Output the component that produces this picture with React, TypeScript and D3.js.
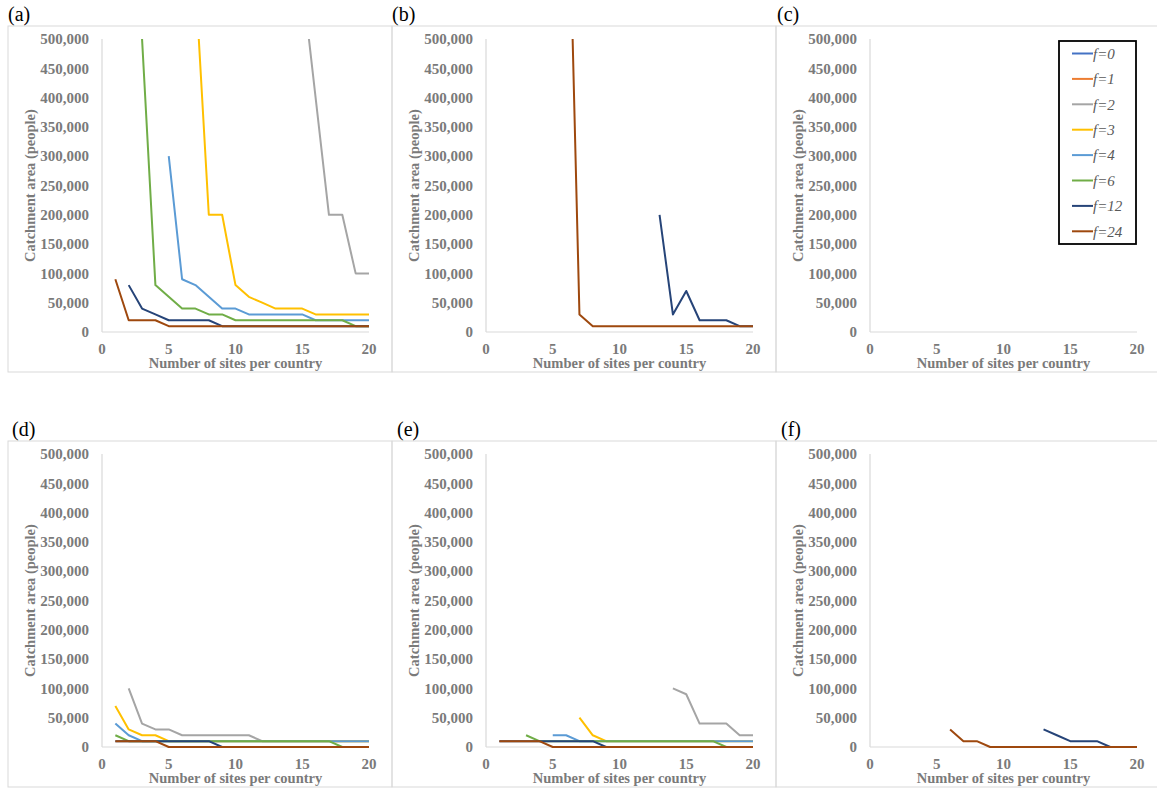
import React from 'react';
import * as d3 from 'd3';

// x values (number of sites per country)
const sites = [1, 2, 3, 4, 5, 6, 7, 8, 9, 10, 11, 12, 13, 14, 15, 16, 17, 18, 19, 20];

const seriesNames = ['f=0', 'f=1', 'f=2', 'f=3', 'f=4', 'f=6', 'f=12', 'f=24'];
const seriesColors = ['#4472C4', '#ED7D31', '#A5A5A5', '#FFC000', '#5B9BD5', '#70AD47', '#264478', '#9E480E'];

const yTicks = [0, 50000, 100000, 150000, 200000, 250000, 300000, 350000, 400000, 450000, 500000];
const xTicks = [0, 5, 10, 15, 20];

const panelLabels = ['(a)', '(b)', '(c)', '(d)', '(e)', '(f)'];

type V = number | null;
const _ = null;

// (a)
const aF2: V[] = [_, _, _, _, _, _, _, _, _, _, _, _, _, _, 600000, 400000, 200000, 200000, 100000, 100000];
const aF3: V[] = [_, _, _, _, _, _, 600000, 200000, 200000, 80000, 60000, 50000, 40000, 40000, 40000, 30000, 30000, 30000, 30000, 30000];
const aF4: V[] = [_, _, _, _, 300000, 90000, 80000, 60000, 40000, 40000, 30000, 30000, 30000, 30000, 30000, 20000, 20000, 20000, 20000, 20000];
const aF6: V[] = [_, _, 500000, 80000, 60000, 40000, 40000, 30000, 30000, 20000, 20000, 20000, 20000, 20000, 20000, 20000, 20000, 20000, 10000, 10000];
const aF12: V[] = [_, 80000, 40000, 30000, 20000, 20000, 20000, 20000, 10000, 10000, 10000, 10000, 10000, 10000, 10000, 10000, 10000, 10000, 10000, 10000];
const aF24: V[] = [90000, 20000, 20000, 20000, 10000, 10000, 10000, 10000, 10000, 10000, 10000, 10000, 10000, 10000, 10000, 10000, 10000, 10000, 10000, 10000];

// (b)
const bF12: V[] = [_, _, _, _, _, _, _, _, _, _, _, _, 200000, 30000, 70000, 20000, 20000, 20000, 10000, 10000];
const bF24: V[] = [_, _, _, _, _, 950000, 30000, 10000, 10000, 10000, 10000, 10000, 10000, 10000, 10000, 10000, 10000, 10000, 10000, 10000];

// (d)
const dF2: V[] = [_, 100000, 40000, 30000, 30000, 20000, 20000, 20000, 20000, 20000, 20000, 10000, 10000, 10000, 10000, 10000, 10000, 10000, 10000, 10000];
const dF3: V[] = [70000, 30000, 20000, 20000, 10000, 10000, 10000, 10000, 10000, 10000, 10000, 10000, 10000, 10000, 10000, 10000, 10000, 10000, 10000, 10000];
const dF4: V[] = [40000, 20000, 10000, 10000, 10000, 10000, 10000, 10000, 10000, 10000, 10000, 10000, 10000, 10000, 10000, 10000, 10000, 10000, 10000, 10000];
const dF6: V[] = [20000, 10000, 10000, 10000, 10000, 10000, 10000, 10000, 10000, 10000, 10000, 10000, 10000, 10000, 10000, 10000, 10000, 0, 0, 0];
const dF12: V[] = [10000, 10000, 10000, 10000, 10000, 10000, 10000, 10000, 0, 0, 0, 0, 0, 0, 0, 0, 0, 0, 0, 0];
const dF24: V[] = [10000, 10000, 10000, 10000, 0, 0, 0, 0, 0, 0, 0, 0, 0, 0, 0, 0, 0, 0, 0, 0];

// (e)
const eF2: V[] = [_, _, _, _, _, _, _, _, _, _, _, _, _, 100000, 90000, 40000, 40000, 40000, 20000, 20000];
const eF3: V[] = [_, _, _, _, _, _, 50000, 20000, 10000, 10000, 10000, 10000, 10000, 10000, 10000, 10000, 10000, 10000, 10000, 10000];
const eF4: V[] = [_, _, _, _, 20000, 20000, 10000, 10000, 10000, 10000, 10000, 10000, 10000, 10000, 10000, 10000, 10000, 10000, 10000, 10000];
const eF6: V[] = [_, _, 20000, 10000, 10000, 10000, 10000, 10000, 10000, 10000, 10000, 10000, 10000, 10000, 10000, 10000, 10000, 0, 0, 0];
const eF12: V[] = [10000, 10000, 10000, 10000, 10000, 10000, 10000, 10000, 0, 0, 0, 0, 0, 0, 0, 0, 0, 0, 0, 0];
const eF24: V[] = [10000, 10000, 10000, 10000, 0, 0, 0, 0, 0, 0, 0, 0, 0, 0, 0, 0, 0, 0, 0, 0];

// (f)
const fF12: V[] = [_, _, _, _, _, _, _, _, _, _, _, _, 30000, 20000, 10000, 10000, 10000, 0, 0, 0];
const fF24: V[] = [_, _, _, _, _, 30000, 10000, 10000, 0, 0, 0, 0, 0, 0, 0, 0, 0, 0, 0, 0];

// one entry per legend series, null = not drawn in that panel
const panels: (V[] | null)[][] = [
  [null, null, aF2, aF3, aF4, aF6, aF12, aF24],
  [null, null, null, null, null, null, bF12, bF24],
  [null, null, null, null, null, null, null, null],
  [null, null, dF2, dF3, dF4, dF6, dF12, dF24],
  [null, null, eF2, eF3, eF4, eF6, eF12, eF24],
  [null, null, null, null, null, null, fF12, fF24],
];

const serif = 'Liberation Serif, Times New Roman, DejaVu Serif, serif';
const gray = '#7a7a7a';

const panelW = 384;
const rowTops = [26, 441];
const panelH = 346;

const Panel = ({ idx }: { idx: number }) => {
  const col = idx % 3;
  const row = Math.floor(idx / 3);
  const px = 8 + col * panelW;
  const py = rowTops[row];
  const left = px + 94;
  const right = left + 267;
  const top = py + 13;
  const bottom = py + 306;

  const x = d3.scaleLinear().domain([0, 20]).range([left, right]);
  const y = d3.scaleLinear().domain([0, 500000]).range([bottom, top]);
  const line = d3.line<V>()
    .defined(d => d !== null)
    .x((d, i) => x(sites[i]))
    .y(d => y(d as number));
  const fmt = d3.format(',');
  const clipId = `clip-${idx}`;
  const labelX = [8, 392, 777, 12, 397, 781][idx];

  return (
    <g>
      <rect x={px} y={py} width={panelW} height={panelH} fill="none" stroke="#d9d9d9" strokeWidth={1} />
      <text x={labelX} y={py - 5} style={{ fontFamily: serif }} fontSize={20} fill="#000">{panelLabels[idx]}</text>
      <clipPath id={clipId}>
        <rect x={left - 2} y={top} width={right - left + 6} height={bottom - top + 4} />
      </clipPath>
      <line x1={left} x2={left} y1={top} y2={bottom} stroke="#d9d9d9" strokeWidth={1.2} />
      <line x1={left} x2={right} y1={bottom} y2={bottom} stroke="#d9d9d9" strokeWidth={1.2} />
      {yTicks.map(t => (
        <text key={t} x={left - 13} y={y(t)} dy="0.35em" textAnchor="end" style={{ fontFamily: serif }}
          fontWeight="bold" fontSize={15} fill={gray}>{fmt(t)}</text>
      ))}
      {xTicks.map(t => (
        <text key={t} x={x(t)} y={bottom + 22} textAnchor="middle" style={{ fontFamily: serif }}
          fontWeight="bold" fontSize={15} fill={gray}>{t}</text>
      ))}
      <text x={(left + right) / 2} y={bottom + 36} textAnchor="middle" style={{ fontFamily: serif }}
        fontWeight="bold" fontSize={14.5} fill={gray}>Number of sites per country</text>
      <text transform={`translate(${left - 67},${(top + bottom) / 2}) rotate(-90)`} textAnchor="middle"
        style={{ fontFamily: serif }} fontWeight="bold" fontSize={14.5} fill={gray}>Catchment area (people)</text>
      <g clipPath={`url(#${clipId})`}>
        {panels[idx].map((vals, s) => vals && (
          <path key={s} d={line(vals) || ''} fill="none" stroke={seriesColors[s]} strokeWidth={2}
            strokeLinejoin="round" />
        ))}
      </g>
    </g>
  );
};

const Legend = () => {
  const bx = 1059, by = 41, bw = 77, bh = 203;
  return (
    <g>
      <rect x={bx} y={by} width={bw} height={bh} fill="#fff" stroke="#000" strokeWidth={1.8} />
      {seriesNames.map((n, i) => {
        const cy = by + 12.5 + i * 25.4;
        return (
          <g key={n}>
            <line x1={bx + 13} x2={bx + 34} y1={cy} y2={cy} stroke={seriesColors[i]} strokeWidth={2} />
            <text x={bx + 34} y={cy} dy="0.35em" style={{ fontFamily: serif }} fontStyle="italic" fontSize={15}
              fill="#595959">{n}</text>
          </g>
        );
      })}
    </g>
  );
};

export default function App() {
  return (
    <div style={{ position: 'absolute', left: 0, top: 0 }}>
      <svg width={1157} height={790} style={{ display: 'block', background: '#fff' }}>
        {[0, 1, 2, 3, 4, 5].map(i => <Panel key={i} idx={i} />)}
        <Legend />
      </svg>
    </div>
  );
}
